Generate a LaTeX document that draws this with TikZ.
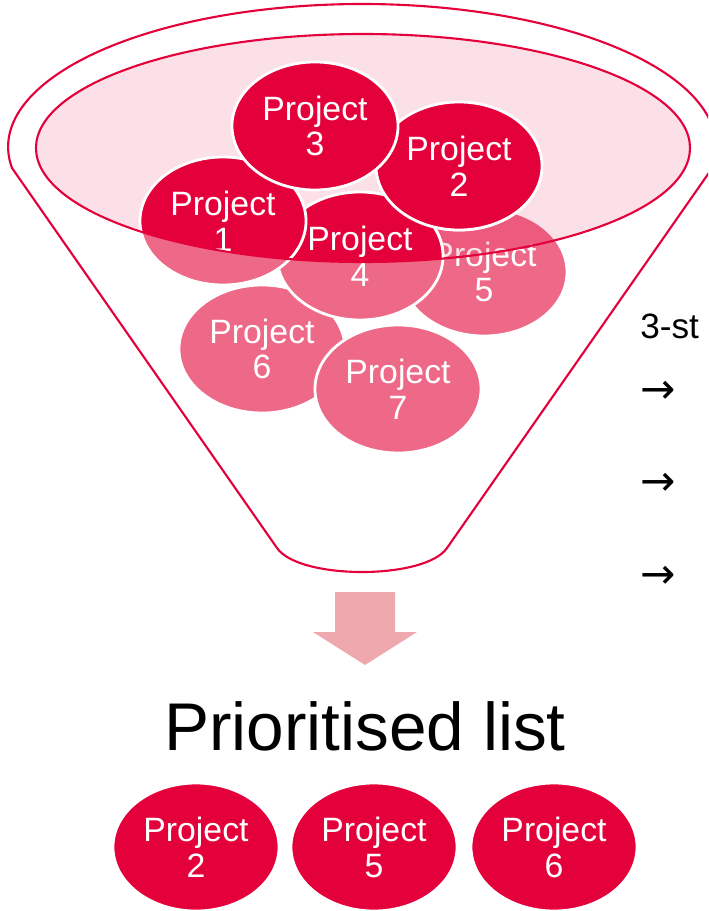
\documentclass[tikz,border=0pt]{standalone}
\usepackage{fontspec}
\setmainfont{Liberation Sans}
\newfontfamily\arrowfont{DejaVu Sans}
\usetikzlibrary{shapes.geometric}
\definecolor{crimson}  {HTML}{E4003B}
\definecolor{rosy}     {HTML}{EE6888}
\definecolor{blush}    {HTML}{EFA9AE}
\tikzset{
  proj/.style={ellipse,draw=white,line width=2pt,text=white,align=center,
               inner sep=0pt,minimum width=4.15cm,minimum height=3.2cm,
               font=\fontsize{24}{25.5}\selectfont},
  pale/.style={proj,fill=rosy},
  deep/.style={proj,fill=crimson},
  rim/.style={draw=crimson,line width=1.5pt},
  sidetext/.style={font=\fontsize{25}{28}\selectfont,inner sep=0pt},
  pointer/.style={font=\arrowfont\fontsize{30}{34}\selectfont,inner sep=0pt,anchor=west},
}

\begin{document}
\begin{tikzpicture}[x=0.025cm,y=0.025cm]
  \useasboundingbox (0,0) rectangle (708,-911);
  \clip (0,0) rectangle (708,-911);
  \draw[rim,fill=white] (12,-168)
     arc[start angle=188.45,end angle=-8.45,x radius=354,y radius=143]
     -- (447,-548) .. controls (425,-580) and (299,-580) .. (277,-548)
     -- cycle;
  \node[pale] (p6) at (262,-349) {Project\\6};
  \node[pale] (p7) at (398,-389) {Project\\7};
  \node[pale] (p5) at (484,-272) {Project\\5};
  \node[pale] (p4) at (360,-256) {Project\\4};
  \node[pale] (p2) at (459,-166) {Project\\2};
  \node[pale] (p1) at (223,-221) {Project\\1};
  \node[pale] (p3) at (315,-126) {Project\\3};
  \fill[crimson,opacity=.12] (363,-148) ellipse[x radius=327,y radius=114];
  \begin{scope}
    \clip (363,-148) ellipse[x radius=327,y radius=114];
    \node[deep] (p4in) at (p4) {Project\\4};
    \node[deep] (p2in) at (p2) {Project\\2};
    \node[deep] (p1in) at (p1) {Project\\1};
    \node[deep] (p3in) at (p3) {Project\\3};
  \end{scope}
  \draw[rim] (363,-148) ellipse[x radius=327,y radius=114];
  \fill[blush] (335,-592) -- (395,-592) -- (395,-632) -- (417,-632)
     -- (365,-665) -- (313,-632) -- (335,-632) -- cycle;
  \node[font=\fontsize{48}{52}\selectfont,anchor=base,inner sep=0pt] (title)
     at (365,-750) {Prioritised list};
  \node[deep] (list2) at (196,-847) {Project\\2};
  \node[deep] (list5) at (374,-847) {Project\\5};
  \node[deep] (list6) at (554,-847) {Project\\6};
  \node[sidetext,anchor=base west] (steps) at (640,-338) {3-st};
  \node[pointer] (go1) at (640,-392) {→};
  \node[pointer] (go2) at (640,-484) {→};
  \node[pointer] (go3) at (640,-577) {→};
\end{tikzpicture}
\end{document}
